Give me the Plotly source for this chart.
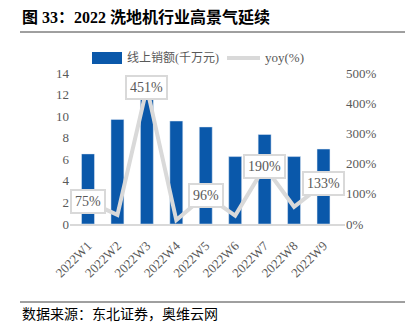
import plotly.graph_objects as go

categories = ["2022W1", "2022W2", "2022W3", "2022W4", "2022W5", "2022W6", "2022W7", "2022W8", "2022W9"]
sales = [6.5, 9.7, 11.8, 9.55, 9.0, 6.25, 8.3, 6.25, 6.95]
yoy = [75, 30, 451, 13, 96, 28, 190, 57, 133]
labeled = [0, 2, 4, 6, 8]

BLUE = "#0a58aa"
GRAY_LINE = "#d9d9d9"
TXT = "#595959"
SERIF = "Liberation Serif, Times New Roman, serif"
CJK = "Noto Sans CJK SC"

W, H = 417, 331
L, R, T, B = 70, 72, 73, 107
pw, ph = W - L - R, H - T - B

def px(x):
    return (x - L) / pw

def py(y):
    return (H - B - y) / ph

fig = go.Figure()
fig.add_trace(go.Bar(x=categories, y=sales, marker_color=BLUE, width=0.44,
                     showlegend=False, yaxis="y"))
fig.add_trace(go.Scatter(x=categories, y=yoy, mode="lines", yaxis="y2",
                         line=dict(color=GRAY_LINE, width=4), showlegend=False))

annotations = []
for i in labeled:
    annotations.append(dict(x=categories[i], y=yoy[i], xref="x", yref="y2",
                            text=f"{yoy[i]}%", showarrow=False,
                            font=dict(family=SERIF, size=14, color=TXT),
                            bgcolor="white", bordercolor=GRAY_LINE, borderwidth=2,
                            borderpad=3))

annotations += [
    dict(x=px(20), y=py(17), xref="paper", yref="paper", xanchor="left", yanchor="middle",
         text="<b>图 33：2022 洗地机行业高景气延续</b>", showarrow=False,
         font=dict(family="Liberation Serif, " + CJK, size=16, color="black")),
    dict(x=px(20), y=py(313), xref="paper", yref="paper", xanchor="left", yanchor="middle",
         text="数据来源：东北证券，奥维云网", showarrow=False,
         font=dict(family=CJK, size=14, color="black")),
    dict(x=px(125), y=py(58), xref="paper", yref="paper", xanchor="left", yanchor="middle",
         text="线上销额(千万元)", showarrow=False,
         font=dict(family=SERIF + ", " + CJK, size=12, color=TXT)),
    dict(x=px(263), y=py(58), xref="paper", yref="paper", xanchor="left", yanchor="middle",
         text="yoy(%)", showarrow=False,
         font=dict(family=SERIF, size=13, color=TXT)),
]

shapes = [
    dict(type="line", xref="paper", yref="paper", x0=px(20), x1=px(405), y0=py(32), y1=py(32),
         line=dict(color="#404040", width=1)),
    dict(type="line", xref="paper", yref="paper", x0=px(20), x1=px(405), y0=py(302), y1=py(302),
         line=dict(color="#404040", width=1)),
    dict(type="rect", xref="paper", yref="paper", x0=px(92), x1=px(122), y0=py(52), y1=py(64),
         fillcolor=BLUE, line=dict(width=0)),
    dict(type="line", xref="paper", yref="paper", x0=px(227), x1=px(260), y0=py(58), y1=py(58),
         line=dict(color=GRAY_LINE, width=4)),
]

fig.update_layout(
    width=W, height=H, margin=dict(l=L, r=R, t=T, b=B),
    paper_bgcolor="white", plot_bgcolor="white",
    font=dict(family=SERIF, size=13, color=TXT),
    xaxis=dict(tickangle=-45, showgrid=False, showline=True, linecolor=GRAY_LINE, linewidth=2,
               ticks="", ticklabelstandoff=7,
               tickfont=dict(family=SERIF, size=13, color=TXT)),
    yaxis=dict(range=[0, 14], dtick=2, showgrid=False, zeroline=False, showline=False,
               ticks="", tickfont=dict(family=SERIF, size=13, color=TXT)),
    yaxis2=dict(range=[0, 500], dtick=100, overlaying="y", side="right", ticksuffix="%",
                showgrid=False, zeroline=False, showline=False, ticks="",
                tickfont=dict(family=SERIF, size=13, color=TXT)),
    annotations=annotations, shapes=shapes,
)

fig.write_html("out.html")
